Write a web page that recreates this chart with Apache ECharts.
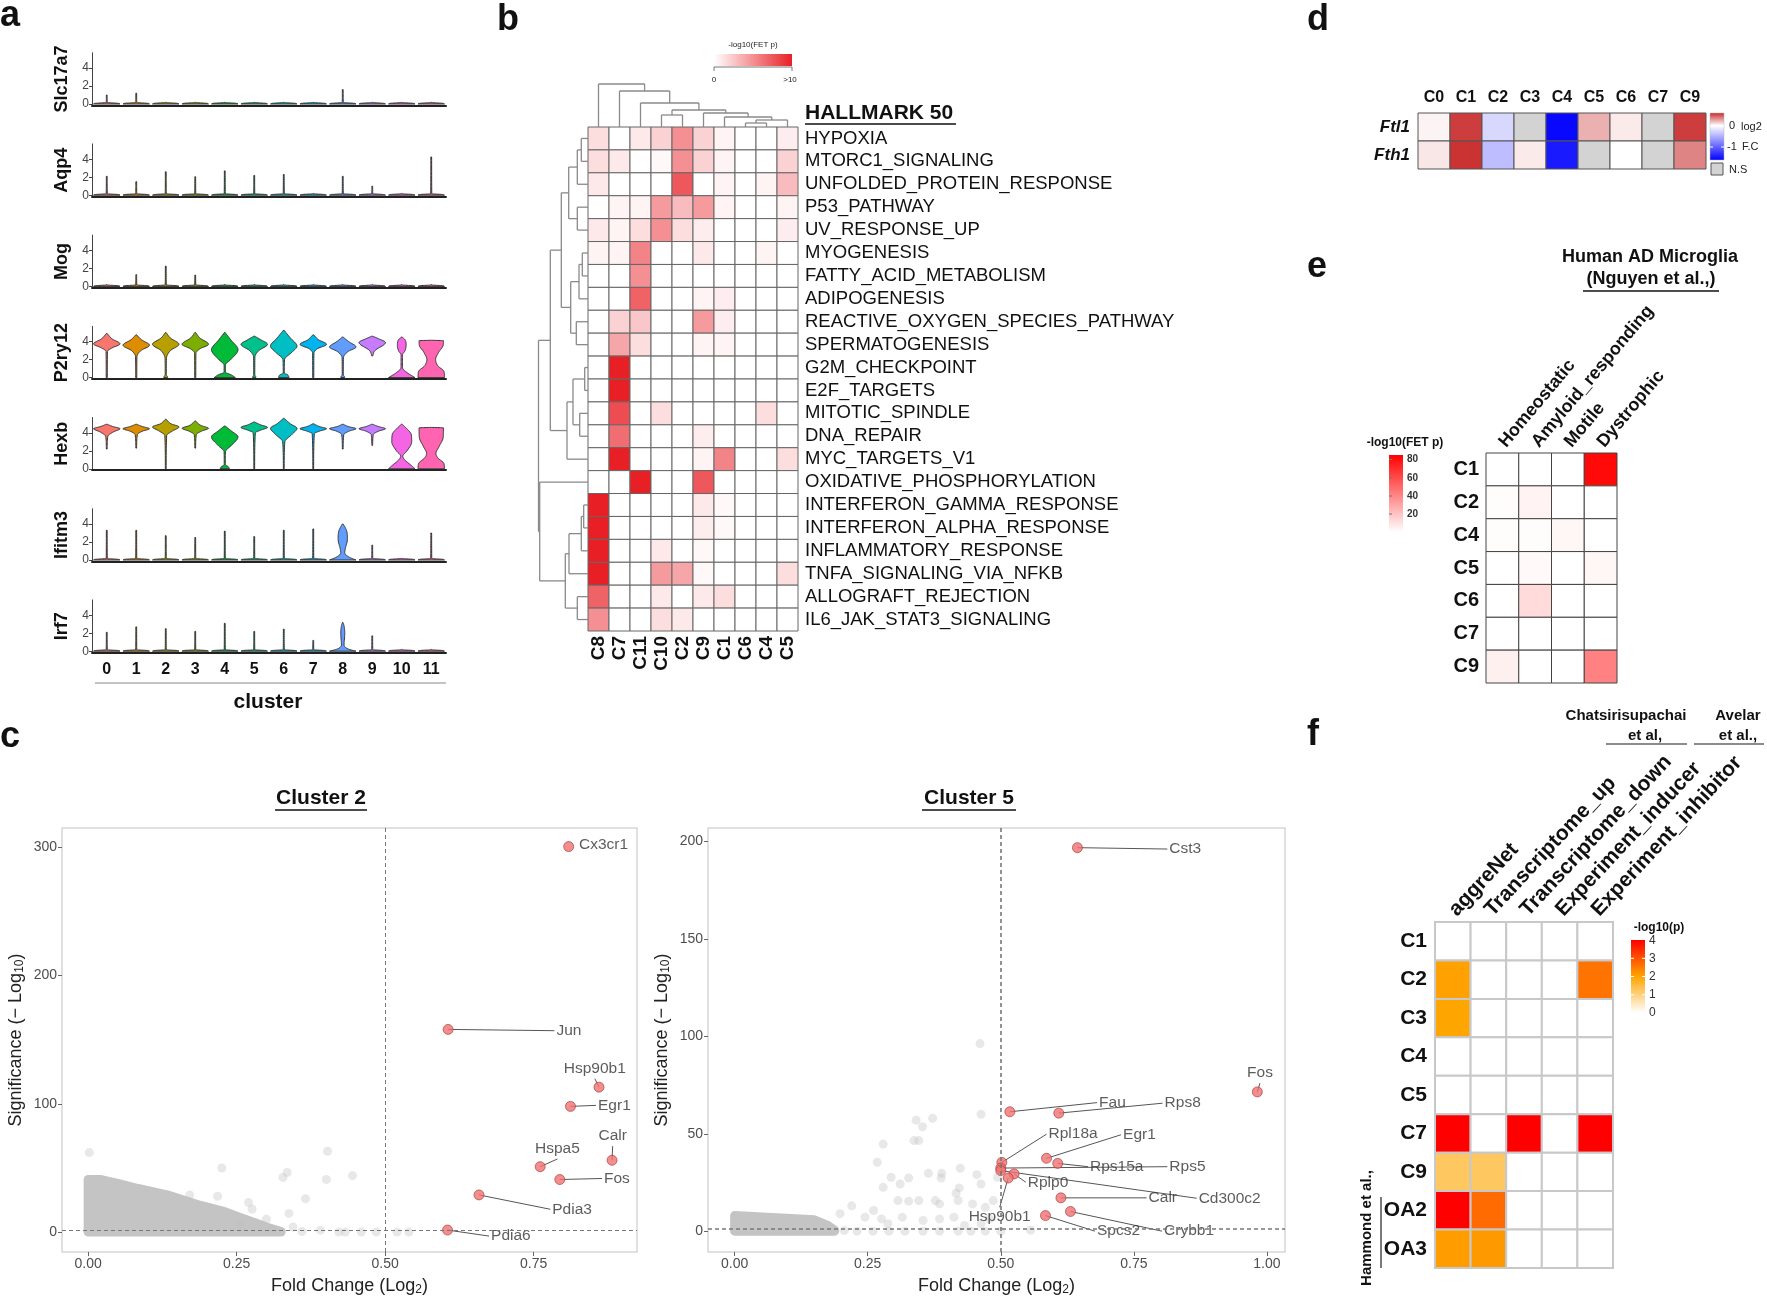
<!DOCTYPE html>
<html><head><meta charset="utf-8">
<script src="https://cdn.jsdelivr.net/npm/echarts@6/dist/echarts.min.js"></script>
<style>html,body{margin:0;padding:0;background:#fff;width:1767px;height:1297px;overflow:hidden}.c{position:absolute;left:0;top:0;width:1767px;height:1297px}</style>
</head><body>
<div id="cA" class="c"></div><div id="cB" class="c"></div><div id="cC" class="c"></div><div id="cR" class="c"></div>
<script>
// ================= DATA =================
// ---- panel a (violin plots) ----
const clusters = ['0','1','2','3','4','5','6','7','8','9','10','11'];
const genes = ['Slc17a7','Aqp4','Mog','P2ry12','Hexb','Ifitm3','Irf7'];
const spikeSlc17a7 = [1.0,1.2,0,0,0,0,0,0,1.6,0,0,0];
const spikeAqp4 = [2.1,1.5,2.6,2.05,2.7,2.2,2.3,0,2.1,1.0,0,4.25];
const spikeMog = [0,1.3,2.25,1.25,0,0,0,0,0,0,0,0];
const spikeIfitm3 = [3.3,3.3,2.7,2.5,3.2,2.6,3.3,3.45,null,1.65,0,3.0];
const spikeIrf7 = [2.1,2.7,2.5,2.2,3.1,2.2,2.45,1.2,null,1.7,0,0];
// density profiles [expression, relative half-width]
const violinP2ry12 = [
 [[0,0.04],[2.9,0.05],[3.3,0.4],[3.75,1],[4.3,0.4],[4.9,0.03]],
 [[0,0.04],[2.3,0.05],[3.0,0.35],[3.6,1],[4.2,0.4],[4.75,0.03]],
 [[0,0.15],[0.15,0.12],[0.3,0.04],[2.1,0.05],[3.0,0.35],[3.7,1],[4.4,0.35],[5.0,0.03]],
 [[0,0.04],[2.7,0.05],[3.2,0.35],[3.7,1],[4.4,0.35],[5.0,0.03]],
 [[0,0.8],[0.3,0.5],[0.6,0.05],[1.4,0.05],[2.0,0.45],[3.1,1],[4.2,0.45],[5.0,0.03]],
 [[0,0.12],[0.15,0.1],[0.3,0.04],[2.3,0.05],[3.0,0.35],[3.7,1],[4.2,0.5],[4.6,0.03]],
 [[0,0.4],[0.3,0.3],[0.5,0.04],[2.0,0.06],[2.8,0.6],[3.5,1],[4.4,0.5],[5.25,0.03]],
 [[0,0.04],[2.7,0.05],[3.2,0.3],[3.7,1],[4.2,0.4],[4.75,0.03]],
 [[0,0.15],[0.15,0.12],[0.3,0.04],[2.2,0.05],[2.9,0.4],[3.4,1],[4.0,0.45],[4.5,0.03]],
 [[2.4,0.03],[3.0,0.2],[3.9,1],[4.3,0.5],[4.6,0.03]],
 [[0,1],[0.5,0.45],[1.1,0.06],[2.5,0.05],[3.0,0.25],[3.6,0.33],[4.2,0.25],[4.5,0.03]],
 [[0,1],[0.7,0.95],[1.3,0.5],[2.0,0.33],[2.8,0.55],[3.6,0.9],[4.1,0.92],[4.15,0.02]]
];
const violinHexb = [
 [[2.2,0.03],[3.6,0.08],[4.1,0.5],[4.45,1],[4.7,0.45],[4.95,0.03]],
 [[2.3,0.03],[3.8,0.08],[4.2,0.5],[4.45,1],[4.7,0.45],[4.95,0.03]],
 [[0,0.03],[3.7,0.07],[4.2,0.5],[4.65,1],[5.0,0.4],[5.5,0.03]],
 [[2.3,0.03],[3.8,0.08],[4.2,0.5],[4.5,1],[4.8,0.45],[5.3,0.03]],
 [[0,0.35],[0.25,0.25],[0.45,0.04],[1.9,0.05],[2.6,0.5],[3.55,1],[4.2,0.5],[4.75,0.03]],
 [[0,0.03],[4.0,0.08],[4.3,0.5],[4.6,1],[4.9,0.45],[5.2,0.03]],
 [[0,0.03],[3.0,0.08],[3.8,0.6],[4.5,1],[5.0,0.5],[5.6,0.03]],
 [[0,0.03],[3.9,0.08],[4.2,0.5],[4.45,1],[4.7,0.45],[5.0,0.03]],
 [[2.2,0.03],[3.8,0.08],[4.2,0.5],[4.45,1],[4.7,0.4],[4.95,0.03]],
 [[2.6,0.03],[3.8,0.08],[4.2,0.5],[4.45,1],[4.7,0.45],[4.95,0.03]],
 [[0,1],[0.4,0.7],[1.0,0.22],[1.4,0.08],[2.0,0.4],[3.0,0.75],[3.8,0.72],[4.5,0.35],[4.95,0.03]],
 [[0,1],[0.6,0.95],[1.2,0.5],[1.7,0.35],[2.5,0.6],[3.5,0.9],[4.55,0.92],[4.6,0.02]]
];
const violinIfitm3C8 = [[0,1],[0.3,0.5],[0.8,0.15],[1.3,0.2],[2.3,0.35],[3.2,0.3],[3.7,0.15],[4.0,0.03]];
const violinIrf7C8 = [[0,1],[0.25,0.4],[0.7,0.1],[2.0,0.15],[2.8,0.1],[3.2,0.02]];

// ---- panel b (hallmark heatmap) ----
const hmCols = ['C8','C7','C11','C10','C2','C9','C1','C6','C4','C5'];
const hmRows = ['HYPOXIA','MTORC1_SIGNALING','UNFOLDED_PROTEIN_RESPONSE','P53_PATHWAY','UV_RESPONSE_UP','MYOGENESIS','FATTY_ACID_METABOLISM','ADIPOGENESIS','REACTIVE_OXYGEN_SPECIES_PATHWAY','SPERMATOGENESIS','G2M_CHECKPOINT','E2F_TARGETS','MITOTIC_SPINDLE','DNA_REPAIR','MYC_TARGETS_V1','OXIDATIVE_PHOSPHORYLATION','INTERFERON_GAMMA_RESPONSE','INTERFERON_ALPHA_RESPONSE','INFLAMMATORY_RESPONSE','TNFA_SIGNALING_VIA_NFKB','ALLOGRAFT_REJECTION','IL6_JAK_STAT3_SIGNALING'];
const hmValues = [
 [1.5,0,1,2,5,2,0.5,0,0,0.8],
 [1.5,1,0,0.3,5,2,0.5,0,0,2],
 [1,0,0,0,7.5,0,0.5,0,0.5,3],
 [0,0.5,0.5,4.5,3,4.5,0.5,0,0,0.5],
 [1,0.5,1.5,5,1.5,0.8,0,0,0,0.8],
 [0.5,0.5,5.5,0,0,1,0,0,0.5,0],
 [0,0,5,0,0,0,0,0,0,0],
 [0,0,7,0,0,0.5,0.8,0,0,0],
 [0,2,2.5,0,0,4.5,0.8,0,0,0],
 [0,4,1.5,0,0,0.5,0.5,0,0,0],
 [0,10,0,0,0,0,0,0,0,0],
 [0,10,0,0,0,0,0,0,0,0],
 [0,8,0,1.5,0,0,0,0,1.5,0],
 [0,6.5,0,0,0,0.8,0,0,0,0],
 [0,10,0,0,0,0.5,5.5,0,0,1.5],
 [0,0,10,0,0,7.5,0,0,0,0],
 [10,0,0,0,0,1,0.3,0,0,0],
 [10,0,0,0,0,0.8,0.3,0,0,0],
 [10,0,0,1,0,0.3,0,0,0,0],
 [10,0,0,4.5,4,0.3,0,0,0,1.5],
 [7,0,0,1,0,1,1.5,0,0,0],
 [5,0,0,1.5,1,0,0,0,0,0]
];
// dendrograms: [left, right, mergeHeight]
const colTree = ['C8',['C7',['C11',[['C10','C2',12],['C9',['C1',[['C6','C4',4],'C5',7],10],14],17],24],36],43];
const rowTree = [[[[[[0,1,6.7],2,10.7],[3,4,10.7],19.3],[[[5,6,5.7],7,9],[8,9,11.7],17.3],26.7],[[[10,11,3.3],[12,13,8.3],15],14,21],37.7],[15,[[[[16,17,4.3],18,6.7],19,19],[20,21,10.7],22.7],48.3],49.5];

// ---- panel c (volcano plots) ----
const c2Genes = ['Cx3cr1','Jun','Hsp90b1','Egr1','Calr','Hspa5','Fos','Pdia3','Pdia6'];
const c2FC = [0.809,0.606,0.860,0.812,0.882,0.761,0.794,0.658,0.605];
const c2Sig = [300.5,158,113,98,56,51,41,29,1.6];
const c2Cloud = [[0,0],[0,41],[0.02,41],[0.05,38],[0.084,34],[0.133,29],[0.188,21],[0.23,16],[0.258,11],[0.28,7.5],[0.3,4],[0.325,0.5],[0.325,0]];
const c2Other = [[0.002,62],[0.403,63],[0.225,50],[0.335,46.5],[0.328,42.6],[0.401,41],[0.445,44],[0.171,29],[0.218,28],[0.366,26],[0.27,23],[0.276,18],[0.338,14.6],[0.30,10],[0.345,4],[0.391,1.5],[0.36,0.5],[0.422,0],[0.433,0],[0.46,0],[0.485,0],[0.52,0],[0.54,0],[0.31,2],[0.255,6]];
const c5Genes = ['Cst3','Fos','Fau','Rps8','Rpl18a','Egr1','Rps15a','Rps5','Rplp0','Calr','Cd300c2','Hsp90b1','Spcs2','Crybb1'];
const c5FC = [0.644,0.982,0.517,0.609,0.502,0.586,0.607,0.5,0.525,0.613,0.5,0.514,0.584,0.631];
const c5Sig = [196.9,71.5,61.3,60.6,35.3,37.4,34.8,32.4,29.4,17.1,31.1,27.3,8.0,10.1];
const c5Cloud = [[0,0],[0,8],[0.07,7],[0.15,5.8],[0.175,3],[0.188,0.5],[0.188,0]];
const c5Other = [[0.461,96.3],[0.463,60],[0.341,57],[0.372,58],[0.353,53.6],[0.279,44.7],[0.337,46.5],[0.346,46.5],[0.268,35.4],[0.294,27.7],[0.279,22.5],[0.311,24.2],[0.327,27.3],[0.364,29.7],[0.388,27.3],[0.389,29.7],[0.424,32.3],[0.455,29],[0.463,24.2],[0.494,27.7],[0.22,13],[0.198,9],[0.261,10.6],[0.307,15.7],[0.327,15.4],[0.346,15.7],[0.377,15.7],[0.385,14],[0.416,19.5],[0.42,15.7],[0.422,22.2],[0.447,14],[0.471,12.3],[0.486,15.7],[0.245,7.2],[0.276,6.3],[0.288,3.8],[0.315,7.2],[0.354,5.5],[0.385,6.3],[0.412,7.2],[0.432,2.9],[0.463,3.8],[0.479,6.3],[0.206,0.3],[0.23,0],[0.26,0],[0.29,0],[0.32,0],[0.354,0],[0.385,0],[0.42,0],[0.444,0],[0.471,0],[0.5,0],[0.556,0.5]];

// ---- panel d ----
const dCols = ['C0','C1','C2','C3','C4','C5','C6','C7','C9'];
const dRows = ['Ftl1','Fth1'];
const dFtl1 = [0.03,0.55,-0.25,null,-1.6,0.22,0.06,null,0.55];
const dFth1 = [0.07,0.58,-0.43,0.06,-1.48,null,0.0,null,0.35];
// ---- panel e ----
const eCols = ['Homeostatic','Amyloid_responding','Motile','Dystrophic'];
const eRows = ['C1','C2','C4','C5','C6','C7','C9'];
const eValues = [[0,0,0,82],[1,4,0,0],[1,1,3,0],[0,2,0,3],[0,12,0,0],[0,0,0,0],[5,0,0,42]];
// ---- panel f ----
const fCols = ['aggreNet','Transcriptome_up','Transcriptome_down','Experiment_inducer','Experiment_inhibitor'];
const fRows = ['C1','C2','C3','C4','C5','C7','C9','OA2','OA3'];
const fValues = [[0,0,0,0,0],[2.05,0,0,0,2.6],[2.0,0,0,0,0],[0,0,0,0,0],[0,0,0,0,0],[4,0,4,0,4],[1.25,1.25,0,0,0],[4,2.7,0,0,0],[2.1,2.15,0,0,0]];

// ================= HELPERS =================
const FF = '"Liberation Sans", Arial, Helvetica, sans-serif';
const clusterColors = ['#F8766D','#DE8C00','#B79F00','#7CAE00','#00BA38','#00C08B','#00BFC4','#00B4F0','#619CFF','#C77CFF','#F564E3','#FF64B0'];
function mix(c1,c2,t){t=Math.max(0,Math.min(1,t));return 'rgb('+[0,1,2].map(i=>Math.round(c1[i]+(c2[i]-c1[i])*t)).join(',')+')';}
const WHITE=[255,255,255];
function hmColor(v){return mix(WHITE,[232,32,38],v/10);}
function dColor(v){if(v==null)return '#d3d3d3';return v>=0?mix(WHITE,[200,40,40],v/0.61):mix(WHITE,[0,0,255],-v/1.65);}
function eColor(v){return mix(WHITE,[255,0,0],v/85);}
function fColor(v){return v<=2?mix(WHITE,[255,165,0],v/2):mix([255,165,0],[255,0,0],(v-2)/2);}
function txt(x,y,text,size,o){o=o||{};const font=(o.italic?'italic ':'')+(o.bold?'bold ':'')+size+'px '+FF;
 return {type:'text',x:x,y:y,rotation:o.rot||0,silent:true,z:20,style:{text:text,font:font,fill:o.color||'#111',align:o.align||'left',verticalAlign:o.va||'middle',textAlign:o.align||'left',textVerticalAlign:o.va||'middle'}};}
function ln(x1,y1,x2,y2,c,w){return {type:'line',silent:true,z:20,shape:{x1:x1,y1:y1,x2:x2,y2:y2},style:{stroke:c,lineWidth:w}};}
function monoInterp(knots,n){
 const xs=knots.map(k=>k[0]),ys=knots.map(k=>k[1]),k=xs.length;const d=[],m=new Array(k);
 for(let i=0;i<k-1;i++)d.push((ys[i+1]-ys[i])/(xs[i+1]-xs[i]));
 m[0]=d[0];m[k-1]=d[k-2];
 for(let i=1;i<k-1;i++)m[i]=(d[i-1]*d[i]<=0)?0:(d[i-1]+d[i])/2;
 for(let i=0;i<k-1;i++){if(d[i]===0){m[i]=0;m[i+1]=0;continue;}const a=m[i]/d[i],b=m[i+1]/d[i],s=a*a+b*b;if(s>9){const t=3/Math.sqrt(s);m[i]=t*a*d[i];m[i+1]=t*b*d[i];}}
 const out=[];
 for(let i=0;i<k-1;i++){const h=xs[i+1]-xs[i];for(let j=0;j<n;j++){const t=j/n,t2=t*t,t3=t2*t;
  const w=(2*t3-3*t2+1)*ys[i]+(t3-2*t2+t)*h*m[i]+(-2*t3+3*t2)*ys[i+1]+(t3-t2)*h*m[i+1];out.push([xs[i]+t*h,Math.max(0,w)]);}}
 out.push([xs[k-1],ys[k-1]]);return out;}
function spikeProfile(v){ if(!v) return [[0,1],[0.08,0.85],[0.16,0.03],[0.2,0.02]]; return [[0,1],[0.08,0.85],[0.16,0.04],[v,0.03]]; }
function dendroSegments(tree,leafPos){const segs=[];
 function walk(nd){if(!Array.isArray(nd))return {x:leafPos(nd),h:0};const l=walk(nd[0]),r=walk(nd[1]),h=nd[2];
  segs.push([l.x,l.h,l.x,h],[r.x,r.h,r.x,h],[l.x,h,r.x,h]);return {x:(l.x+r.x)/2,h:h};}
 walk(tree);return segs;}

// ================= PANEL A =================
const profilesByGene = [
 spikeSlc17a7.map(spikeProfile), spikeAqp4.map(spikeProfile), spikeMog.map(spikeProfile),
 violinP2ry12, violinHexb,
 spikeIfitm3.map(v=>v==null?violinIfitm3C8:spikeProfile(v)),
 spikeIrf7.map(v=>v==null?violinIrf7C8:spikeProfile(v))
];
const rowBase = i => 104 + 91.2*i;
const YPX = 9;
const chartA = echarts.init(document.getElementById('cA'));
chartA.setOption({
 animation:false,
 grid: genes.map((g,i)=>({left:92,width:354,top:rowBase(i)-5.7*YPX,height:5.85*YPX})),
 xAxis: genes.map((g,i)=>({gridIndex:i,type:'category',data:clusters,boundaryGap:true,
   axisLine:{show:true,onZero:false,lineStyle:{color:'#222',width:2}},axisTick:{show:false},
   axisLabel:{show:i===genes.length-1,fontSize:16,fontWeight:'bold',color:'#111',margin:9,fontFamily:FF,interval:0}})),
 yAxis: genes.map((g,i)=>({gridIndex:i,type:'value',min:-0.15,max:5.7,splitLine:{show:false},
   axisLine:{show:true,onZero:false,lineStyle:{color:'#444',width:1}},
   axisTick:{show:true,customValues:[0,2,4],length:3,lineStyle:{color:'#444'}},
   axisLabel:{customValues:[0,2,4],fontSize:12,color:'#444',margin:3,fontFamily:FF},
   name:g,nameLocation:'middle',nameRotate:90,nameGap:21,nameTextStyle:{fontSize:18,fontWeight:'bold',color:'#111',fontFamily:FF}})),
 series: genes.map((g,i)=>({type:'custom',xAxisIndex:i,yAxisIndex:i,clip:false,silent:true,
   data: clusters.map((c,j)=>[j,0]), encode:{x:0,y:1},
   renderItem:(params,api)=>{const j=api.value(0);const prof=monoInterp(profilesByGene[i][j],10);
     const hw=api.size([1,0])[0]*0.45;
     const right=prof.map(p=>{const q=api.coord([j,p[0]]);return [q[0]+p[1]*hw,q[1]];});
     const left=prof.slice().reverse().map(p=>{const q=api.coord([j,p[0]]);return [q[0]-p[1]*hw,q[1]];});
     return {type:'polygon',shape:{points:right.concat(left)},style:{fill:clusterColors[j],stroke:'#333',lineWidth:1}};}})),
 graphic: [
  txt(0,16,'a',36,{bold:true}), txt(497,20,'b',36,{bold:true}), txt(0,737,'c',36,{bold:true}),
  txt(1307,20,'d',36,{bold:true}), txt(1307,267,'e',36,{bold:true}), txt(1307,735,'f',36,{bold:true}),
  ln(95,683,446,683,'#888',1), txt(268,702,'cluster',21,{bold:true,align:'center'})
 ]
});

// ================= PANEL B =================
const hmData=[];hmRows.forEach((r,ri)=>hmCols.forEach((c,ci)=>hmData.push([ci,ri,hmValues[ri][ci]])));
const colSegs = dendroSegments(colTree, n=>hmCols.indexOf(n)+0.5);
const rowSegs = dendroSegments(rowTree, n=>n+0.5).map(s=>[s[1],s[0],s[3],s[2]]);
const segRender = (params,api)=>{const a=api.coord([api.value(0),api.value(1)]),b=api.coord([api.value(2),api.value(3)]);
  return {type:'line',shape:{x1:a[0],y1:a[1],x2:b[0],y2:b[1]},style:{stroke:'#8a8a8a',lineWidth:1.3}};};
const chartB = echarts.init(document.getElementById('cB'));
chartB.setOption({
 animation:false,
 grid:[{left:588,top:127,width:210,height:504},{left:588,top:81,width:210,height:46},{left:539,top:127,width:49,height:504}],
 xAxis:[
  {gridIndex:0,type:'category',data:hmCols,position:'bottom',axisLine:{show:false},axisTick:{show:false},
   axisLabel:{rotate:90,interval:0,fontSize:19,fontWeight:'bold',color:'#111',margin:5,fontFamily:FF}},
  {gridIndex:1,type:'value',min:0,max:10,show:false},
  {gridIndex:2,type:'value',min:0,max:49,inverse:true,show:false}],
 yAxis:[
  {gridIndex:0,type:'category',data:hmRows,inverse:true,position:'right',axisLine:{show:false},axisTick:{show:false},
   axisLabel:{interval:0,fontSize:18.5,color:'#111',margin:7,fontFamily:FF}},
  {gridIndex:1,type:'value',min:0,max:46,show:false},
  {gridIndex:2,type:'value',min:0,max:22,inverse:true,show:false}],
 series:[
  {type:'custom',xAxisIndex:0,yAxisIndex:0,silent:true,data:hmData,encode:{x:0,y:1},
   renderItem:(params,api)=>{const p=api.coord([api.value(0),api.value(1)]),s=api.size([1,1]);
    return {type:'rect',shape:{x:p[0]-s[0]/2,y:p[1]-s[1]/2,width:s[0],height:s[1]},style:{fill:hmColor(api.value(2)),stroke:'#666',lineWidth:1}};}},
  {type:'custom',xAxisIndex:1,yAxisIndex:1,silent:true,data:colSegs,encode:{x:[0,2],y:[1,3]},renderItem:segRender},
  {type:'custom',xAxisIndex:2,yAxisIndex:2,silent:true,data:rowSegs,encode:{x:[0,2],y:[1,3]},renderItem:segRender}
 ],
 graphic:[
  txt(753,45,'-log10(FET p)',8,{align:'center',color:'#222'}),
  {type:'rect',silent:true,shape:{x:714,y:54,width:78,height:12},style:{fill:new echarts.graphic.LinearGradient(0,0,1,0,[{offset:0,color:'#ffffff'},{offset:1,color:'rgb(232,32,38)'}])}},
  ln(714,67,792,67,'#555',0.8), ln(714,67,714,71,'#555',0.8), ln(792,67,792,71,'#555',0.8),
  txt(714,80,'0',8,{align:'center',color:'#222'}), txt(790,80,'>10',8,{align:'center',color:'#222'}),
  txt(805,113,'HALLMARK 50',21,{bold:true}), ln(805,124,956,124,'#111',1.6)
 ]
});

// ================= PANEL C =================
const lab2 = {at:[[0.823,302],[0.785,157],[0.853,119.6],[0.855,98.8],[0.883,67],[0.79,57],[0.865,41.8],[0.778,17.8],[0.675,-3.1]],
  side:['right','right','top','right','top','top','right','right','right'],link:[false,true,true,true,true,true,true,true,true]};
const lab5 = {at:[[0.813,196.2],[0.987,76],[0.681,66],[0.804,65.7],[0.586,49.8],[0.726,49.5],[0.664,33.1],[0.813,33.1],[0.547,25.1],[0.774,17.1],[0.868,16.9],[0.498,12.3],[0.677,0],[0.803,0]],
  side:['right','top','right','right','right','right','right','right','right','right','right','bottom','right','right'],link:[true,true,true,true,true,true,true,true,true,true,true,true,true,true]};
function volcanoSeries(gi,cloud,other,genesL,fc,sig,lab,dashW){
 const segs=[];genesL.forEach((g,i)=>{if(lab.link[i])segs.push([fc[i],sig[i],lab.at[i][0],lab.at[i][1]]);});
 return [
  {type:'custom',xAxisIndex:gi,yAxisIndex:gi,silent:true,data:[[0,0]],encode:{x:0,y:1},
   renderItem:(params,api)=>({type:'polygon',shape:{points:cloud.map(p=>api.coord(p))},style:{fill:'#c4c4c4',stroke:'#c4c4c4',lineWidth:9,lineJoin:'round'}}),
   markLine:{silent:true,symbol:'none',label:{show:false},lineStyle:{color:'#777',type:[4,3],width:dashW},data:[{xAxis:0.5},{yAxis:1.3}]}},
  {type:'scatter',xAxisIndex:gi,yAxisIndex:gi,silent:true,data:other,symbolSize:9,itemStyle:{color:'rgba(190,190,190,0.45)'}},
  {type:'custom',xAxisIndex:gi,yAxisIndex:gi,silent:true,data:segs,encode:{x:[0,2],y:[1,3]},
   renderItem:(params,api)=>{const a=api.coord([api.value(0),api.value(1)]),b=api.coord([api.value(2),api.value(3)]);
    return {type:'line',shape:{x1:a[0],y1:a[1],x2:b[0],y2:b[1]},style:{stroke:'#555',lineWidth:1}};}},
  {type:'scatter',xAxisIndex:gi,yAxisIndex:gi,silent:true,data:genesL.map((g,i)=>[fc[i],sig[i]]),symbolSize:10,
   itemStyle:{color:'#f07272',borderColor:'#a33',borderWidth:0.8}},
  {type:'scatter',xAxisIndex:gi,yAxisIndex:gi,silent:true,symbolSize:0,
   data:genesL.map((g,i)=>({name:g,value:lab.at[i],label:{position:lab.side[i]}})),
   label:{show:true,distance:2,formatter:p=>p.name,fontSize:15.5,color:'#333',fontFamily:FF}}
 ];
}
const axC = (gi,min,max,vals,name,fmt,gap)=>({gridIndex:gi,type:'value',min:min,max:max,splitLine:{show:false},
 axisLine:{show:false,onZero:false},axisTick:{show:true,customValues:vals,length:4,lineStyle:{color:'#666'}},
 axisLabel:{customValues:vals,formatter:fmt,fontSize:14,color:'#4d4d4d',margin:5,fontFamily:FF},
 name:name,nameLocation:'middle',nameGap:gap,nameTextStyle:{fontSize:18,color:'#222',fontFamily:FF,rich:{s:{fontSize:12,color:'#222',fontFamily:FF,verticalAlign:'bottom',padding:[8,0,0,0]}}}});
const chartC = echarts.init(document.getElementById('cC'));
chartC.setOption({
 animation:false,
 grid:[{left:62,top:828,width:575,height:426,show:true,borderColor:'#d6d6d6',borderWidth:1.5},
       {left:708,top:828,width:577,height:426,show:true,borderColor:'#d6d6d6',borderWidth:1.5}],
 xAxis:[axC(0,-0.044,0.924,[0,0.25,0.5,0.75],'Fold Change (Log{s|2})',v=>v.toFixed(2),24),
        axC(1,-0.05,1.034,[0,0.25,0.5,0.75,1],'Fold Change (Log{s|2})',v=>v.toFixed(2),24)],
 yAxis:[Object.assign(axC(0,-15.5,315,[0,100,200,300],'Significance (\u2212 Log{s|10})',v=>String(v),36),{nameRotate:90}),
        Object.assign(axC(1,-10.7,207,[0,50,100,150,200],'Significance (\u2212 Log{s|10})',v=>String(v),36),{nameRotate:90})],
 series:[].concat(volcanoSeries(0,c2Cloud,c2Other,c2Genes,c2FC,c2Sig,lab2,1), volcanoSeries(1,c5Cloud,c5Other,c5Genes,c5FC,c5Sig,lab5,1.6)),
 graphic:[
  txt(321,798,'Cluster 2',21,{bold:true,align:'center'}), ln(275,810,367,810,'#111',1.6),
  txt(969,798,'Cluster 5',21,{bold:true,align:'center'}), ln(922,810,1016,810,'#111',1.6)
 ]
});

// ================= PANELS D, E, F =================
const dData=[];dRows.forEach((r,ri)=>dCols.forEach((c,ci)=>dData.push([ci,ri,(ri===0?dFtl1:dFth1)[ci]])));
const eData=[];eRows.forEach((r,ri)=>eCols.forEach((c,ci)=>eData.push([ci,ri,eValues[ri][ci]])));
const fData=[];fRows.forEach((r,ri)=>fCols.forEach((c,ci)=>fData.push([ci,ri,fValues[ri][ci]])));
function cellSeries(gi,data,colorFn,stroke,lw){
 return {type:'custom',xAxisIndex:gi,yAxisIndex:gi,silent:true,data:data,encode:{x:0,y:1},
  renderItem:(params,api)=>{const p=api.coord([api.value(0),api.value(1)]),s=api.size([1,1]);const raw=data[params.dataIndex][2];
   return {type:'rect',shape:{x:p[0]-s[0]/2,y:p[1]-s[1]/2,width:s[0],height:s[1]},style:{fill:colorFn(raw),stroke:stroke,lineWidth:lw}};}};
}
const catX=(gi,data,rot,size,margin)=>({gridIndex:gi,type:'category',data:data,position:'top',axisLine:{show:false},axisTick:{show:false},
 axisLabel:{rotate:rot,interval:0,fontSize:size,fontWeight:'bold',color:'#111',margin:margin,fontFamily:FF}});
const catY=(gi,data,size,italic,margin)=>({gridIndex:gi,type:'category',data:data,inverse:true,axisLine:{show:false},axisTick:{show:false},
 axisLabel:{interval:0,fontSize:size,fontWeight:'bold',fontStyle:italic?'italic':'normal',color:'#111',margin:margin,fontFamily:FF}});
const chartR = echarts.init(document.getElementById('cR'));
chartR.setOption({
 animation:false,
 grid:[{left:1418,top:113,width:288,height:56},{left:1486,top:453,width:131,height:230},{left:1435,top:922,width:178,height:346}],
 xAxis:[catX(0,dCols,0,16,7),catX(1,eCols,-50,18,8),catX(2,fCols,-47,21,9)],
 yAxis:[catY(0,dRows,17,true,8),catY(1,eRows,20,false,7),catY(2,fRows,21,false,8)],
 series:[cellSeries(0,dData,dColor,'#555',1),cellSeries(1,eData,eColor,'#444',1),cellSeries(2,fData,fColor,'#c8c8c8',2)],
 graphic:[
  // d legend
  {type:'rect',silent:true,shape:{x:1710,y:113,width:14,height:47},style:{stroke:'#bbb',lineWidth:0.5,fill:new echarts.graphic.LinearGradient(0,0,0,1,[{offset:0,color:'rgb(200,40,40)'},{offset:0.27,color:'#ffffff'},{offset:1,color:'#0000ff'}])}},
  ln(1710,126,1713,126,'#fff',1), ln(1721,126,1724,126,'#fff',1), ln(1710,147,1713,147,'#fff',1), ln(1721,147,1724,147,'#fff',1),
  txt(1729,126,'0',11,{color:'#222'}), txt(1741,127,'log2',11,{color:'#222'}),
  txt(1727,147,'-1',11,{color:'#222'}), txt(1742,147,'F.C',11,{color:'#222'}),
  {type:'rect',silent:true,shape:{x:1711,y:163,width:12,height:12},style:{fill:'#d3d3d3',stroke:'#555',lineWidth:1}},
  txt(1729,170,'N.S',11,{color:'#222'}),
  // e title + legend
  txt(1650,257,'Human AD Microglia',18,{bold:true,align:'center'}),
  txt(1651,279,'(Nguyen et al.,)',18,{bold:true,align:'center'}), ln(1583,291,1719,291,'#111',1.3),
  txt(1405,443,'-log10(FET p)',12,{bold:true,align:'center'}),
  {type:'rect',silent:true,shape:{x:1389,y:455,width:14,height:77},style:{fill:new echarts.graphic.LinearGradient(0,1,0,0,[{offset:0,color:'#ffffff'},{offset:1,color:'#ff0000'}])}},
  ln(1389,459.5,1392,459.5,'#777',1),ln(1389,478,1392,478,'#777',1),ln(1389,496,1392,496,'#777',1),ln(1389,514,1392,514,'#777',1),
  txt(1407,459.5,'80',10,{bold:true,color:'#333'}),txt(1407,478,'60',10,{bold:true,color:'#333'}),
  txt(1407,496,'40',10,{bold:true,color:'#333'}),txt(1407,514,'20',10,{bold:true,color:'#333'}),
  // f headers + legend
  txt(1626,716,'Chatsirisupachai',15,{bold:true,align:'center'}), txt(1645,736,'et al,',15,{bold:true,align:'center'}), ln(1606,744,1687,744,'#666',1.5),
  txt(1738,716,'Avelar',15,{bold:true,align:'center'}), txt(1738,736,'et al.,',15,{bold:true,align:'center'}), ln(1694,744,1764,744,'#666',1.5),
  txt(1659,928,'-log10(p)',12,{bold:true,align:'center'}),
  {type:'rect',silent:true,shape:{x:1631,y:940,width:14,height:73},style:{fill:new echarts.graphic.LinearGradient(0,1,0,0,[{offset:0,color:'#ffffff'},{offset:0.5,color:'#ffa500'},{offset:1,color:'#ff0000'}])}},
  ln(1631,958.3,1634,958.3,'#fff',1),ln(1642,958.3,1645,958.3,'#fff',1),ln(1631,976.5,1634,976.5,'#fff',1),ln(1642,976.5,1645,976.5,'#fff',1),ln(1631,994.8,1634,994.8,'#fff',1),ln(1642,994.8,1645,994.8,'#fff',1),
  txt(1649,941,'4',12,{color:'#333'}),txt(1649,959,'3',12,{color:'#333'}),txt(1649,977,'2',12,{color:'#333'}),txt(1649,995,'1',12,{color:'#333'}),txt(1649,1013,'0',12,{color:'#333'}),
  txt(1367,1228,'Hammond et al.,',15,{bold:true,align:'center',rot:Math.PI/2}), ln(1381,1197,1381,1268,'#333',1.3)
 ]
});
</script></body></html>
